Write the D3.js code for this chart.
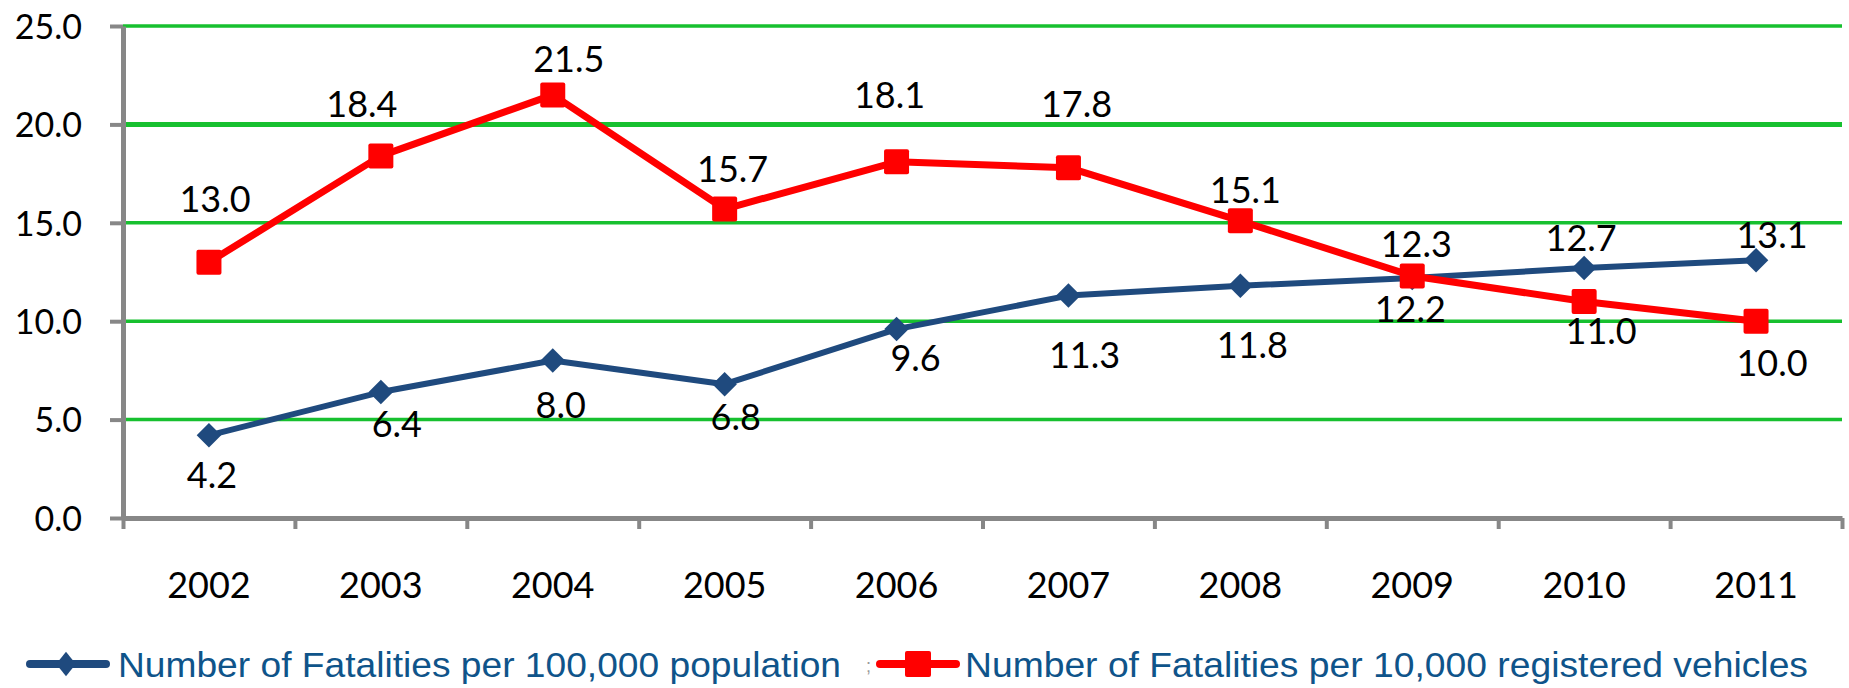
<!DOCTYPE html>
<html>
<head>
<meta charset="utf-8">
<script src="https://cdn.jsdelivr.net/npm/d3@7"></script>
<style>
  body { margin: 0; background: #fff; }
  svg { display: block; }
  .num { font-family: Lato, "Open Sans", sans-serif; fill: #000; }
</style>
</head>
<body>
<svg id="chart" width="1849" height="688"></svg>
<script>
// data
var years = ["2002", "2003", "2004", "2005", "2006", "2007", "2008", "2009", "2010", "2011"];
var perPopulation = [4.2, 6.4, 8.0, 6.8, 9.6, 11.3, 11.8, 12.2, 12.7, 13.1];
var perVehicles = [13.0, 18.4, 21.5, 15.7, 18.1, 17.8, 15.1, 12.3, 11.0, 10.0];
var yTicks = [0, 5, 10, 15, 20, 25];
var seriesNames = ["Number of Fatalities per 100,000 population",
                   "Number of Fatalities per 10,000 registered vehicles"];

// label nudges (pixels from the marker), the original labels were placed by hand
var popLabelDx = [3, 16, 8, 11, 19, 16, 12, -2, -3, 16];
var popLabelDy = [53, 45, 57, 46, 42, 72, 72, 44, -17, -12];
var vehLabelDx = [6, -19, 16, 8, -7, 8, 5, 4, 17, 16];
var vehLabelDy = [-50, -39, -23, -27, -54, -51, -18, -19, 42, 55];

var blue = "#1f4a7e", red = "#ff0000", green = "#17c02f", axisGrey = "#878787";

var svg = d3.select("#chart");
var plotLeft = 123, plotRight = 1842, plotTop = 26, plotBottom = 518;

var x = d3.scaleBand().domain(years).range([plotLeft, plotRight]);
var xEdge = d3.scaleLinear().domain([0, years.length]).range([plotLeft, plotRight]);
var y = d3.scaleLinear().domain([0, 25]).range([plotBottom, plotTop]);

// gridlines
svg.append("g")
    .selectAll("line")
    .data(yTicks.filter(function(d) { return d > 0; }))
    .join("line")
    .attr("x1", plotLeft)
    .attr("x2", plotRight)
    .attr("y1", function(d) { return y(d); })
    .attr("y2", function(d) { return y(d); })
    .attr("stroke", green)
    .attr("stroke-width", function(d) { return d === 20 ? 5 : 3.5; });

// y axis
var yAxis = svg.append("g")
    .attr("transform", "translate(" + plotLeft + ",0)")
    .call(d3.axisLeft(y).tickValues(yTicks).tickFormat(d3.format(".1f"))
        .tickSize(13).tickSizeOuter(0).tickPadding(28));
yAxis.select(".domain").attr("stroke", axisGrey).attr("stroke-width", 5);
yAxis.selectAll(".tick line").attr("stroke", axisGrey).attr("stroke-width", 4);
yAxis.selectAll(".tick text")
    .attr("class", "num")
    .attr("font-size", 34)
    .attr("dy", "0.36em");

// x axis: boundary ticks
var xTicks = svg.append("g")
    .attr("transform", "translate(0," + plotBottom + ")")
    .call(d3.axisBottom(xEdge).tickValues(d3.range(years.length + 1))
        .tickFormat("").tickSize(11).tickSizeOuter(0));
xTicks.select(".domain").attr("stroke", axisGrey).attr("stroke-width", 5);
xTicks.selectAll(".tick line").attr("stroke", axisGrey).attr("stroke-width", 4);

// x axis: year labels
var xLabels = svg.append("g")
    .attr("transform", "translate(0," + plotBottom + ")")
    .call(d3.axisBottom(x).tickSize(0).tickPadding(80));
xLabels.select(".domain").remove();
xLabels.selectAll(".tick text")
    .attr("class", "num")
    .attr("font-size", 36)
    .attr("dy", "0");

function cx(i) { return x(years[i]) + x.bandwidth() / 2; }

var line = d3.line()
    .x(function(d, i) { return cx(i); })
    .y(function(d) { return y(d); });

// population series (blue, diamonds)
svg.append("path")
    .datum(perPopulation)
    .attr("d", line)
    .attr("fill", "none")
    .attr("stroke", blue)
    .attr("stroke-width", 6)
    .attr("stroke-linejoin", "round");

var diamond = d3.symbol().type(d3.symbolSquare).size(300);
svg.append("g")
    .selectAll("path")
    .data(perPopulation)
    .join("path")
    .attr("d", diamond)
    .attr("fill", blue)
    .attr("transform", function(d, i) {
        return "translate(" + cx(i) + "," + y(d) + ") rotate(45)";
    });

// vehicles series (red, squares)
svg.append("path")
    .datum(perVehicles)
    .attr("d", line)
    .attr("fill", "none")
    .attr("stroke", red)
    .attr("stroke-width", 7)
    .attr("stroke-linejoin", "round");

svg.append("g")
    .selectAll("rect")
    .data(perVehicles)
    .join("rect")
    .attr("x", function(d, i) { return cx(i) - 12.5; })
    .attr("y", function(d) { return y(d) - 12.5; })
    .attr("width", 25)
    .attr("height", 25)
    .attr("rx", 2)
    .attr("fill", red);

// data labels
svg.append("g")
    .selectAll("text")
    .data(perPopulation)
    .join("text")
    .attr("class", "num")
    .attr("font-size", 36)
    .attr("text-anchor", "middle")
    .attr("x", function(d, i) { return cx(i) + popLabelDx[i]; })
    .attr("y", function(d, i) { return y(d) + popLabelDy[i]; })
    .text(function(d) { return d.toFixed(1); });

svg.append("g")
    .selectAll("text")
    .data(perVehicles)
    .join("text")
    .attr("class", "num")
    .attr("font-size", 36)
    .attr("text-anchor", "middle")
    .attr("x", function(d, i) { return cx(i) + vehLabelDx[i]; })
    .attr("y", function(d, i) { return y(d) + vehLabelDy[i]; })
    .text(function(d) { return d.toFixed(1); });

// legend
var legendY = 664;
var leg = svg.append("g");

leg.append("line")
    .attr("x1", 30).attr("x2", 106)
    .attr("y1", legendY).attr("y2", legendY)
    .attr("stroke", blue).attr("stroke-width", 8).attr("stroke-linecap", "round");
leg.append("path")
    .attr("d", diamond)
    .attr("fill", blue)
    .attr("transform", "translate(66," + legendY + ") scale(0.8,1) rotate(45)");
leg.append("text")
    .attr("x", 118).attr("y", 677)
    .attr("font-family", "'Liberation Sans Narrow', 'Liberation Sans', Arial, sans-serif")
    .attr("font-size", 35)
    .attr("fill", "#0f548a")
    .attr("textLength", 723)
    .attr("lengthAdjust", "spacingAndGlyphs")
    .text(seriesNames[0]);

leg.append("text")
    .attr("x", 866).attr("y", legendY + 8)
    .attr("font-family", "'Liberation Sans', sans-serif")
    .attr("font-size", 18)
    .attr("fill", "#999")
    .text(";");

leg.append("line")
    .attr("x1", 880).attr("x2", 956)
    .attr("y1", legendY).attr("y2", legendY)
    .attr("stroke", red).attr("stroke-width", 8).attr("stroke-linecap", "round");
leg.append("rect")
    .attr("x", 918 - 13).attr("y", legendY - 13)
    .attr("width", 26).attr("height", 26)
    .attr("rx", 2)
    .attr("fill", red);
leg.append("text")
    .attr("x", 965).attr("y", 677)
    .attr("font-family", "'Liberation Sans Narrow', 'Liberation Sans', Arial, sans-serif")
    .attr("font-size", 35)
    .attr("fill", "#0f548a")
    .attr("textLength", 843)
    .attr("lengthAdjust", "spacingAndGlyphs")
    .text(seriesNames[1]);
</script>
</body>
</html>
